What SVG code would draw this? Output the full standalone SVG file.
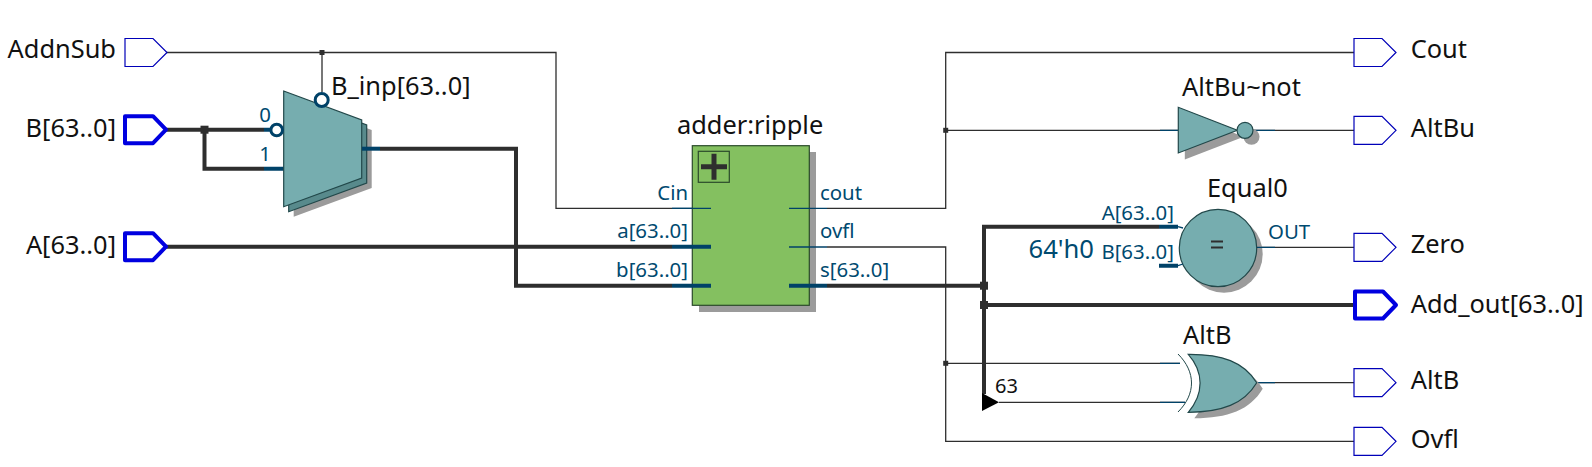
<svg xmlns="http://www.w3.org/2000/svg" width="1592" height="467" viewBox="0 0 1592 467">
<style>
text{font-family:"Noto Sans","Open Sans","Liberation Sans",sans-serif}
.l{font-size:25.4px;fill:#111}
.p{font-size:20.4px;fill:#004a70}
.w{fill:none;stroke:#2e2e2e;stroke-width:1.3}
.t{fill:none;stroke:#2e2e2e;stroke-width:4}
.bw{fill:none;stroke:#004268;stroke-width:1.3}
.bt{fill:none;stroke:#004268;stroke-width:4}
.j{fill:#2e2e2e}
.pin{fill:#fff;stroke:#0000b8;stroke-width:1.2}
.pint{fill:#fff;stroke:#0000e0;stroke-width:4;stroke-linejoin:round}
.sh{fill:#9b9b9b}
.body{fill:#76adaf;stroke:#22484a;stroke-width:1.2}
</style>
<defs>
<path id="pn" class="pin" d="M0 -14H28L42 0L28 14H0Z"/>
<path id="pt" class="pint" d="M0 -13.5H28L41 0L28 13.5H0Z"/>
</defs>
<g id="connectors">
<path class="w" d="M166 52.5H556V208.3H672"/>
<path class="w" d="M322 52.5V92"/>
<rect class="j" x="319.5" y="50" width="5" height="5"/>
<path class="t" d="M166 129.7H264M204.5 129.7V168.7H264"/>
<rect class="j" x="200.5" y="125.7" width="8" height="8"/>
<path class="bt" d="M264 129.7H271M264 168.7H284"/>
<path class="t" d="M380 148.7H516V285.7H672M166 246.7H672"/>
<path class="bw" d="M672 208.3H711"/>
<path class="w" d="M827 208.3H945.7V52.5H1354M945.7 130.3H1178"/>
<rect class="j" x="943.2" y="127.8" width="5" height="5"/>
<path class="w" d="M827 247H945.7V441.3H1354"/>
<path class="w" d="M945.7 363.3H1180M999 402.3H1185"/>
<rect class="j" x="943.2" y="360.8" width="5" height="5"/>
<path class="t" d="M827 285.7H984M1159 226.7H984V394M984 305H1354"/>
<rect class="j" x="980" y="281.7" width="8" height="8"/>
<rect class="j" x="980" y="301" width="8" height="8"/>
<path d="M982 393L999 402.3L982 411Z" fill="#000"/>
<path class="w" d="M1253 130.3H1354M1256.7 247.3H1354M1256.7 382.7H1354"/>
<path class="bw" d="M1160 130.3H1178M1253 130.3H1275M1160 363.3H1180M1160 402.3H1185M1257 382.7H1275"/>
</g>
<g id="AddnSub"><text class="l" x="116" y="58" text-anchor="end">AddnSub</text><use href="#pn" x="125" y="52.5"/></g>
<g id="B"><text class="l" x="116" y="137" text-anchor="end">B[63..0]</text><use href="#pt" x="125" y="129.7"/></g>
<g id="A"><text class="l" x="116" y="254" text-anchor="end">A[63..0]</text><use href="#pt" x="125" y="246.7"/></g>
<g id="B_inp">
<text class="l" x="331" y="95">B_inp[63..0]</text>
<path class="sh" d="M293.7 101L371.7 130V188L293.7 216.7Z"/>
<path fill="#588a8c" stroke="#22484a" stroke-width="1.2" d="M288.7 96L366.7 125V183L288.7 211.7Z"/>
<path class="body" d="M283.7 91L361.7 120V178L283.7 206.7Z"/>
<circle cx="321.7" cy="100" r="6.5" fill="#fff" stroke="#004268" stroke-width="3"/>
<circle cx="276.7" cy="130" r="5.8" fill="#fff" stroke="#004268" stroke-width="3"/>
<path class="bt" d="M362 148.7H380"/>
<text class="p" x="265" y="122" text-anchor="middle">0</text>
<text class="p" x="265" y="161" text-anchor="middle">1</text>
</g>
<g id="adder_ripple">
<text class="l" x="677" y="134">adder:ripple</text>
<rect class="sh" x="699" y="152" width="117" height="160"/>
<rect x="692.3" y="145.7" width="117" height="159.6" fill="#84c060" stroke="#2b4a2b" stroke-width="1.2"/>
<rect x="698.3" y="151.3" width="31" height="31" fill="none" stroke="#2b4a2b" stroke-width="1.2"/>
<path d="M701 166.7H727M714 153.7V179.7" stroke="#2e2e2e" stroke-width="5"/>
<path class="bw" d="M672 208.3H711M789 208.3H827M789 247H827"/>
<path class="bt" d="M672 246.7H711M672 285.7H711M789 285.7H827"/>
<text class="p" x="688" y="200" text-anchor="end">Cin</text>
<text class="p" x="688" y="238" text-anchor="end">a[63..0]</text>
<text class="p" x="688" y="277" text-anchor="end">b[63..0]</text>
<text class="p" x="820" y="200">cout</text>
<text class="p" x="820" y="238">ovfl</text>
<text class="p" x="820" y="277">s[63..0]</text>
</g>
<g id="AltBu_not">
<text class="l" x="1182" y="96">AltBu~not</text>
<path class="sh" d="M1184.8 113.8V159.5L1243.8 136.8Z"/>
<circle class="sh" cx="1251.5" cy="136.8" r="8"/>
<path class="body" d="M1178.3 107.3V153L1237.3 130.3Z"/>
<circle class="body" cx="1245" cy="130.3" r="8"/>
</g>
<g id="Equal0">
<text class="l" x="1207" y="197">Equal0</text>
<circle class="sh" cx="1224" cy="254" r="38.7"/>
<circle class="body" cx="1218" cy="248" r="38.7"/>
<path d="M1211 241.5H1223M1211 247.5H1223" stroke="#2e2e2e" stroke-width="1.8"/>
<path class="bt" d="M1159 226.7H1178M1159 265.7H1178"/>
<path class="bw" d="M1178 226.7L1183 228M1178 265.7L1183 264M1257 247.3H1275"/>
<text class="p" x="1174" y="220" text-anchor="end" font-size="21">A[63..0]</text>
<text class="p" x="1174" y="259" text-anchor="end">B[63..0]</text>
<text x="1094" y="258" text-anchor="end" font-size="25.6" fill="#004a70">64'h0</text>
<text class="p" x="1268" y="239">OUT</text>
</g>
<g id="AltB">
<text class="l" x="1183" y="344">AltB</text>
<text x="995" y="393.3" font-size="20" fill="#111">63</text>
<path class="sh" d="M1194.3 360.3C1228 360 1250 368 1262.7 388.7C1250 410 1228 418 1194.3 418.3C1210 400 1210 378 1194.3 360.3Z"/>
<path class="body" d="M1188.3 354.3C1222 354 1244 362 1256.7 382.7C1244 404 1222 412 1188.3 412.3C1204 394 1204 372 1188.3 354.3Z"/>
<path d="M1178 354C1196 372 1196 394 1178 412" fill="none" stroke="#22484a" stroke-width="1"/>
</g>
<g id="Cout"><use href="#pn" x="1354" y="52.5"/><text class="l" x="1410.7" y="58">Cout</text></g>
<g id="AltBu"><use href="#pn" x="1354" y="130.3"/><text class="l" x="1410.7" y="137">AltBu</text></g>
<g id="Zero"><use href="#pn" x="1354" y="247.3"/><text class="l" x="1410.7" y="253">Zero</text></g>
<g id="Add_out"><use href="#pt" x="1355" y="305"/><text class="l" x="1410.7" y="313">Add_out[63..0]</text></g>
<g id="AltBn"><use href="#pn" x="1354" y="382.7"/><text class="l" x="1410.7" y="389">AltB</text></g>
<g id="Ovfl"><use href="#pn" x="1354" y="441.3"/><text class="l" x="1410.7" y="448">Ovfl</text></g>
</svg>
